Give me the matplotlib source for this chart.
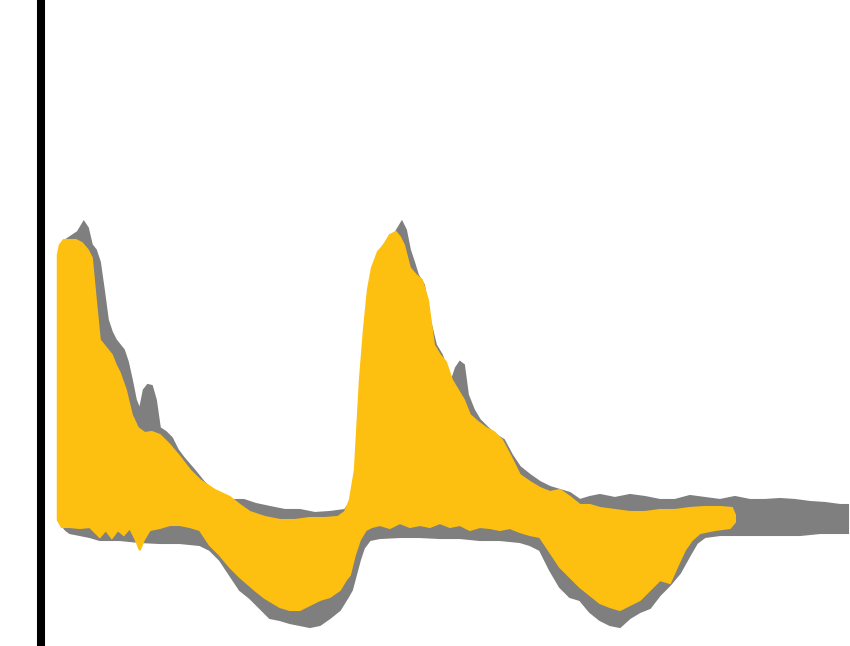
import numpy as np
import matplotlib
matplotlib.use("Agg")
import matplotlib.pyplot as plt

# time (ms) and signal envelopes

# gray trace
gray_t_upper = [22, 26, 32, 38, 44, 48, 52, 56, 60, 64, 68, 72, 76, 80, 84, 88, 92, 96, 100, 104,
                108, 112, 116, 120, 126, 132, 138, 144, 150, 156, 164, 172, 182, 192, 204, 216, 230,
                245, 260, 275, 290, 305, 312, 316, 320, 324, 328, 332, 338, 344, 350, 356, 362, 366,
                370, 374, 378, 384, 390, 396, 402, 408, 412, 416, 420, 424, 428, 434, 440, 448, 456,
                464, 472, 480, 490, 500, 510, 520, 530, 540, 550, 560, 575, 590, 605, 620, 635, 650,
                665, 680, 695, 710, 725, 740, 755, 770, 785, 800, 808]
gray_v_upper = [280, 290, 294, 298, 308, 302, 285, 280, 268, 240, 210, 198, 190, 185, 180, 168, 150,
                130, 120, 140, 145, 144, 130, 102, 98, 92, 80, 72, 65, 58, 48, 40, 33, 30, 30, 26, 23,
                20, 20, 17, 18, 20, 30, 60, 110, 170, 220, 250, 272, 285, 290, 298, 308, 300, 280,
                268, 255, 245, 210, 185, 175, 158, 150, 162, 168, 165, 135, 120, 110, 102, 95, 90, 75,
                63, 55, 48, 43, 40, 37, 30, 33, 35, 32, 35, 33, 30, 30, 34, 32, 30, 33, 30, 30, 31, 30,
                28, 27, 25, 25]
gray_t_lower = [22, 26, 30, 40, 50, 60, 80, 100, 120, 140, 160, 170, 180, 190, 200, 210, 220, 230,
                240, 250, 260, 270, 280, 290, 300, 308, 312, 316, 320, 324, 330, 340, 360, 380, 400,
                420, 440, 460, 480, 490, 500, 510, 520, 530, 540, 550, 560, 570, 580, 590, 600, 610,
                620, 630, 640, 650, 657, 665, 680, 700, 720, 740, 760, 780, 808]
gray_v_lower = [5, 0, -3, -5, -7, -10, -10, -12, -13, -13, -15, -20, -30, -45, -60, -68, -78, -88,
                -90, -93, -95, -97, -95, -88, -80, -67, -60, -45, -30, -18, -10, -8, -7, -7, -8, -8,
                -10, -10, -12, -15, -20, -40, -57, -67, -70, -82, -90, -95, -97, -88, -82, -78, -65,
                -55, -43, -25, -13, -7, -5, -5, -5, -5, -5, -3, -3]

# yellow trace
yellow_t_upper = [18, 20, 24, 30, 36, 42, 48, 52, 56, 60, 64, 68, 72, 76, 80, 86, 92, 98, 105, 112,
                  120, 130, 140, 150, 160, 175, 190, 200, 210, 225, 240, 255, 270, 285, 298, 305,
                  310, 315, 320, 324, 328, 332, 338, 344, 350, 356, 360, 364, 370, 376, 382, 388,
                  394, 400, 406, 412, 418, 424, 430, 438, 446, 454, 462, 470, 480, 490, 500, 510,
                  520, 530, 540, 550, 560, 575, 590, 605, 620, 635, 650, 665, 680, 692, 695]
yellow_v_upper = [275, 285, 290, 290, 290, 287, 280, 272, 230, 190, 185, 180, 175, 165, 157, 140, 115,
                  102, 97, 98, 95, 85, 73, 60, 50, 40, 33, 25, 18, 13, 10, 10, 12, 12, 13, 18, 30, 60,
                  150, 200, 240, 262, 278, 285, 295, 298, 293, 285, 262, 255, 250, 230, 185, 175, 168,
                  150, 140, 130, 115, 108, 102, 98, 90, 75, 55, 48, 42, 38, 40, 33, 25, 25, 22, 20, 18,
                  18, 20, 20, 22, 23, 23, 22, 15]
yellow_t_lower = [18, 22, 30, 40, 50, 56, 60, 66, 72, 78, 84, 90, 96, 100, 104, 110, 120, 130, 140,
                  150, 160, 170, 180, 190, 200, 215, 225, 240, 250, 260, 270, 280, 290, 300, 306, 310,
                  315, 320, 326, 332, 340, 350, 360, 370, 380, 390, 400, 410, 420, 430, 440, 450, 460,
                  470, 480, 490, 500, 510, 520, 530, 540, 550, 560, 570, 580, 590, 600, 610, 620, 630,
                  638, 645, 652, 660, 675, 690, 695]
yellow_v_lower = [10, 3, 3, 2, 3, -3, -7, 0, -8, 0, -5, 2, -10, -20, -10, 0, 2, 5, 5, 3, 0, -15, -25,
                  -37, -47, -60, -68, -77, -80, -80, -75, -70, -67, -60, -50, -45, -25, -10, 0, 3, 5,
                  2, 7, 3, 5, 3, 7, 3, 5, 0, 3, 2, 0, 2, -2, -5, -7, -22, -37, -47, -57, -65, -73, -77,
                  -80, -75, -70, -60, -50, -53, -35, -20, -10, -3, 0, 2, 8]

GRAY = "#7f7f7f"
YELLOW = "#fdc010"


def band(ax, t_up, v_up, t_low, v_low, color):
    # closed outline: upper edge left to right, lower edge back
    xs = np.concatenate([t_up, t_low[::-1]])
    ys = np.concatenate([v_up, v_low[::-1]])
    ax.fill(xs, ys, color=color, linewidth=1.5, edgecolor=color)


def main():
    fig = plt.figure(figsize=(8.5, 6.46), dpi=100)
    ax = fig.add_axes([0.048, 0.0, 0.952, 1.0])

    band(ax, gray_t_upper, gray_v_upper, gray_t_lower, gray_v_lower, GRAY)
    band(ax, yellow_t_upper, yellow_v_upper, yellow_t_lower, yellow_v_lower, YELLOW)

    ax.set_xlim(1, 810)
    ax.set_ylim(-116, 530)

    for side in ["top", "right", "bottom"]:
        ax.spines[side].set_visible(False)
    ax.spines["left"].set_linewidth(5.8)
    ax.spines["left"].set_color("black")
    ax.set_xticks([])
    ax.set_yticks([])

    fig.savefig("out.png", dpi=100)


if __name__ == "__main__":
    main()
